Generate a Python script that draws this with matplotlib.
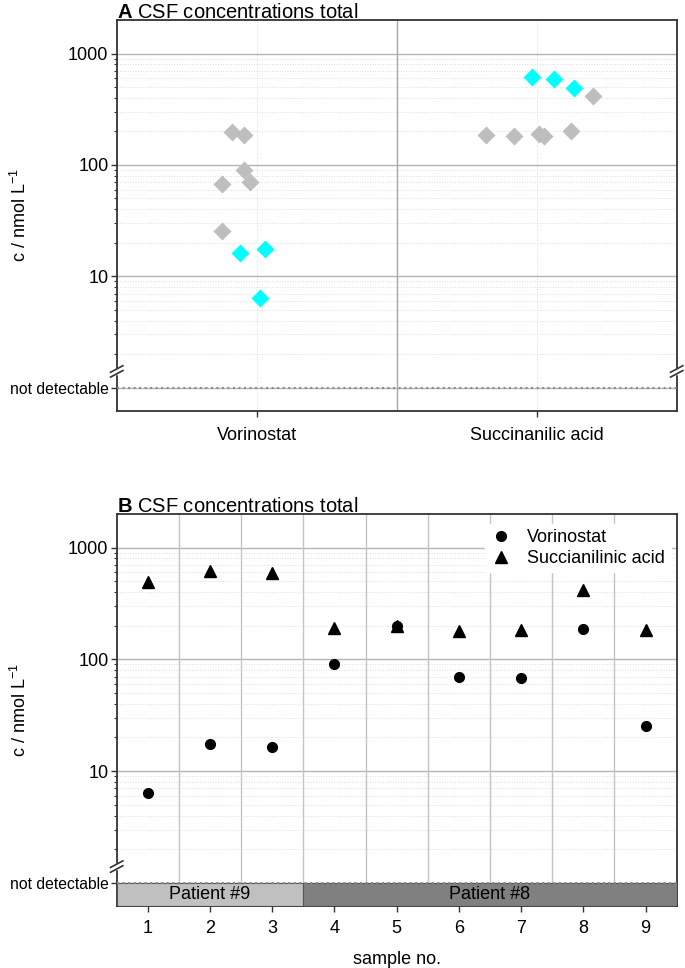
import numpy as np
import matplotlib
matplotlib.use("Agg")
import matplotlib.pyplot as plt
from matplotlib import transforms

plt.rcParams['font.family'] = ['Liberation Sans', 'DejaVu Sans']
plt.rcParams['mathtext.fontset'] = 'custom'
plt.rcParams['mathtext.rm'] = 'Liberation Sans'
plt.rcParams['mathtext.bf'] = 'Liberation Sans:bold'

# data
samples = [1, 2, 3, 4, 5, 6, 7, 8, 9]
patient = [9, 9, 9, 8, 8, 8, 8, 8, 8]
vorinostat = [6.4, 17.5, 16.3, 90, 197, 70, 67.5, 187, 25.6]
succinanilic = [495, 620, 590, 190, 201, 180, 182, 414, 184]

# horizontal scatter of the diamonds in panel A (per sample)
jitter_vor = [0.013, 0.030, -0.061, -0.045, -0.087, -0.023, -0.125, -0.045, -0.124]
jitter_suc = [0.132, -0.017, 0.063, 0.009, 0.121, -0.080, 0.026, 0.200, -0.180]

categories = ['Vorinostat', 'Succinanilic acid']
patient_colors = {9: '#c0c0c0', 8: '#808080'}
hl_color = '#00ffff'
gray = '#bebebe'

ytick_vals = [1, 10, 100, 1000]
ytick_labels = ['not detectable', '10', '100', '1000']
minor_vals = [k * 10 ** d for d in range(0, 4) for k in range(2, 10) if k * 10 ** d < 2000]
ylims = (0.62, 2000)

fig = plt.figure(figsize=(6.85, 9.68), dpi=100)
axA = fig.add_axes([0.1704, 0.5757, 0.8175, 0.4036])
axB = fig.add_axes([0.1704, 0.064, 0.8175, 0.405])


def style_y(ax):
    ax.set_yscale('log')
    ax.set_ylim(*ylims)
    ax.set_yticks(ytick_vals, ytick_labels)
    ax.set_yticks(minor_vals, minor=True)
    ax.yaxis.set_minor_formatter(plt.NullFormatter())
    ax.tick_params(axis='both', which='major', direction='out', length=4, width=1,
                   labelsize=13, color='#333333', pad=2)
    ax.tick_params(axis='y', which='minor', direction='out', length=2.5, width=0.8,
                   color='#333333')
    ax.get_yticklabels()[0].set_fontsize(11.3)
    ax.grid(True, axis='y', which='major', color='#b4b4b4', lw=1)
    ax.grid(True, axis='y', which='minor', color='#dddddd', lw=0.7, ls=':')
    ax.set_axisbelow(True)
    for s in ax.spines.values():
        s.set_color('#333333')
        s.set_linewidth(1.3)
    ax.axhline(1, color='#8a8a8a', ls=':', lw=1.5, zorder=4)
    ax.set_ylabel('c / nmol L$^{-1}$', fontsize=13)
    ax.yaxis.set_label_coords(-0.155, 0.5)


def axis_break(ax, xpos):
    tr = transforms.blended_transform_factory(ax.transAxes, ax.transData)
    dx = 0.011
    for yc in (1.33, 1.47):
        ax.plot([xpos - dx, xpos + dx], [yc / 1.07, yc * 1.07], color='#333333',
                lw=1.2, transform=tr, clip_on=False, zorder=6)
    ax.plot([xpos, xpos], [1.36, 1.44], color='white', lw=2.5, transform=tr,
            clip_on=False, zorder=5)


def panel_title(ax, letter):
    ax.annotate(r'$\bf{%s}$ CSF concentrations total' % letter, xy=(0, 1),
                xycoords='axes fraction', xytext=(0, 1.5), textcoords='offset points',
                fontsize=14.5, va='baseline')


# ---- panel A ----
style_y(axA)
axA.set_xlim(-0.5, 1.5)
axA.set_xticks([0, 1], categories)
axA.tick_params(axis='x', which='major', pad=8)
axA.grid(True, axis='x', which='major', color='#dddddd', lw=0.7, ls=':')
axA.axvline(0.5, color='#a8a8a8', lw=1, zorder=1)

for i, vals in enumerate([vorinostat, succinanilic]):
    jit = [jitter_vor, jitter_suc][i]
    for s, v, j, p in zip(samples, vals, jit, patient):
        c = hl_color if p == 9 else gray
        axA.plot(i + j, v, 'D', color=c, ms=9.5, mec='none', zorder=5)

axis_break(axA, 0)
axis_break(axA, 1)
panel_title(axA, 'A')

# ---- panel B ----
style_y(axB)
axB.set_xlim(samples[0] - 0.5, samples[-1] + 0.5)
axB.set_xticks(samples)
axB.tick_params(axis='x', which='major', pad=6)
for s in samples[:-1]:
    axB.axvline(s + 0.5, color='#c4c4c4', lw=1, zorder=1)

axB.plot(samples, vorinostat, 'o', color='black', ms=7, ls='none', label='Vorinostat', zorder=5)
axB.plot(samples, succinanilic, '^', color='black', ms=8, ls='none',
         label='Succianilinic acid', zorder=5)

# patient bar below the "not detectable" line
for pid in sorted(set(patient), key=patient.index):
    xs = [s for s, p in zip(samples, patient) if p == pid]
    left, right = min(xs) - 0.5, max(xs) + 0.5
    axB.bar((left + right) / 2, 1 - ylims[0], bottom=ylims[0], width=right - left,
            color=patient_colors[pid], edgecolor='#555555', lw=0.8, zorder=3)
    axB.text((left + right) / 2, np.sqrt(ylims[0] * 1.0), 'Patient #%d' % pid,
             ha='center', va='center', fontsize=13, zorder=4)

axis_break(axB, 0)
axB.set_xlabel('sample no.', fontsize=13, labelpad=10)
leg = axB.legend(loc='upper right', bbox_to_anchor=(0.989, 0.975), fontsize=13,
                 frameon=True, fancybox=False, edgecolor='white', framealpha=1,
                 borderaxespad=0, handlelength=1.2, handletextpad=0.85,
                 labelspacing=0.2, borderpad=0.3)
leg.set_zorder(7)
panel_title(axB, 'B')

fig.savefig('out.png', dpi=100)
